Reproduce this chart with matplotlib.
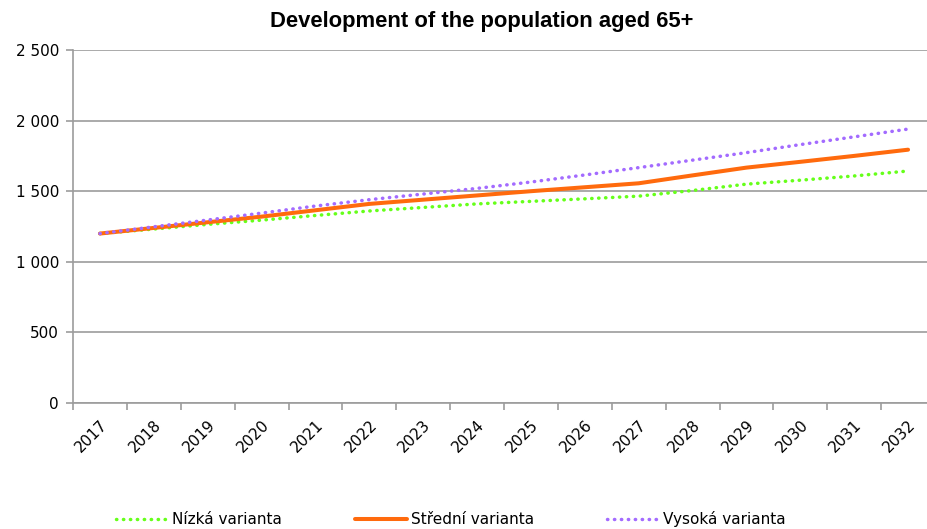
import matplotlib
matplotlib.use("Agg")
import matplotlib.pyplot as plt
from matplotlib.ticker import FuncFormatter

# Data (thousands of people)
years = [str(y) for y in range(2017, 2033)]
low_variant = [1200, 1232, 1265, 1295, 1328, 1360, 1385, 1410, 1428, 1446, 1465, 1505, 1550, 1578, 1608, 1643]
mid_variant = [1200, 1240, 1280, 1320, 1365, 1410, 1440, 1470, 1500, 1528, 1556, 1612, 1667, 1708, 1750, 1794]
high_variant = [1200, 1248, 1296, 1345, 1395, 1440, 1480, 1520, 1565, 1615, 1667, 1720, 1773, 1830, 1885, 1940]
series_names = ["Nízká varianta", "Střední varianta", "Vysoká varianta"]
y_ticks = [0, 500, 1000, 1500, 2000, 2500]

W, H = 927, 529
fig = plt.figure(figsize=(W / 100, H / 100), dpi=100)
ax = fig.add_axes([73 / W, 126 / H, (935 - 73) / W, (403 - 50) / H])

grid_col = "#9c9c9c"
x = list(range(len(years)))

ax.plot(x, low_variant, color="#66ff1a", lw=2.5, linestyle=(0, (0.1, 1.9)),
        dash_capstyle="round", label=series_names[0], zorder=3)
ax.plot(x, mid_variant, color="#ff6a0d", lw=2.9, solid_capstyle="round",
        label=series_names[1], zorder=4)
ax.plot(x, high_variant, color="#a36bff", lw=2.5, linestyle=(0, (0.1, 1.9)),
        dash_capstyle="round", label=series_names[2], zorder=5)

ax.set_xlim(-0.5, len(years) - 0.5)
ax.set_ylim(0, 2500)
ax.set_yticks(y_ticks)
ax.yaxis.set_major_formatter(FuncFormatter(lambda v, p: f"{int(v):,}".replace(",", " ")))
ax.grid(axis="y", color=grid_col, lw=1.2)
ax.set_axisbelow(True)

# category labels at centres, tick marks at the boundaries
ax.set_xticks(x)
ax.set_xticklabels(years, rotation=45, ha="right", va="top", rotation_mode="anchor")
ax.set_xticks([i - 0.5 for i in range(len(years) + 1)], minor=True)
ax.tick_params(axis="x", which="major", length=0, pad=10, labelsize=11)
ax.tick_params(axis="x", which="minor", length=5, color=grid_col, width=1.2)
ax.tick_params(axis="y", length=5, color=grid_col, width=1.2, pad=5, labelsize=11)

for s in ["top", "right"]:
    ax.spines[s].set_visible(False)
for s in ["left", "bottom"]:
    ax.spines[s].set_color(grid_col)
    ax.spines[s].set_linewidth(1.2)

fig.text(482 / W, 1 - 21 / H, "Development of the population aged 65+",
         ha="center", va="center", fontsize=15.8, fontweight="bold",
         family="Liberation Sans")

fig.legend(loc="center", bbox_to_anchor=(451 / W, 10 / H), ncol=3, frameon=False,
           fontsize=11, handlelength=3.4, handletextpad=0.25, columnspacing=4.8)

fig.savefig("out.png", dpi=100)
